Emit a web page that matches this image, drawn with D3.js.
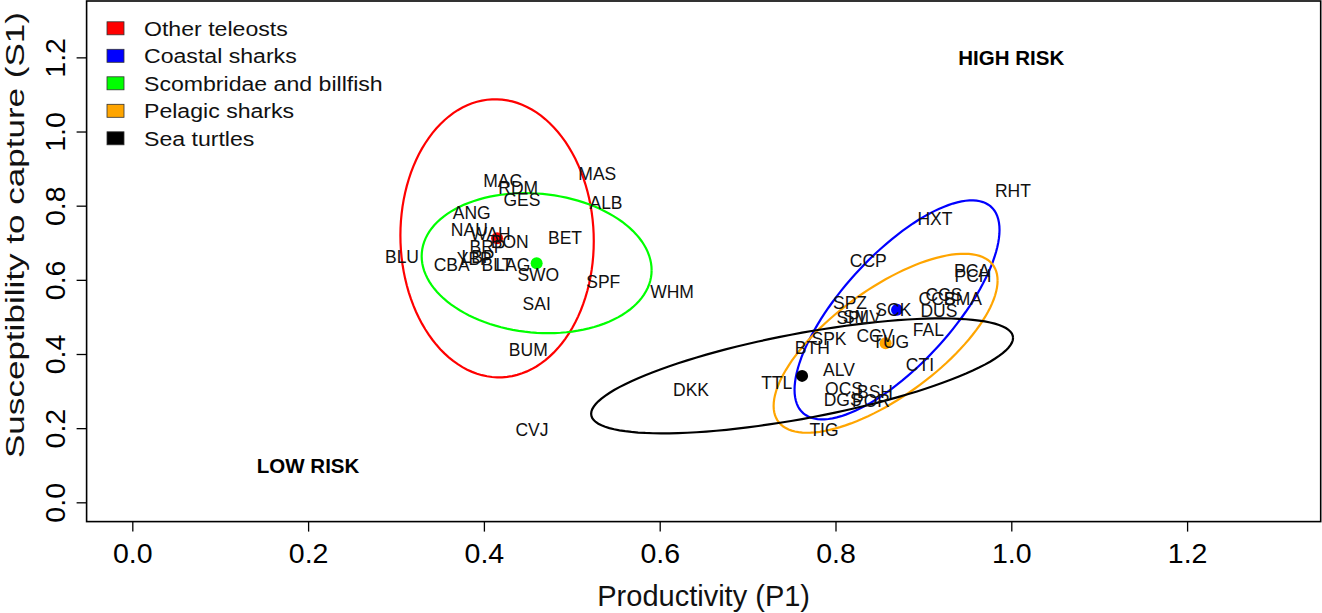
<!DOCTYPE html>
<html>
<head>
<meta charset="utf-8">
<script src="https://cdn.jsdelivr.net/npm/d3@7"></script>
<style>
  html, body { margin: 0; padding: 0; background: #fff; }
  svg { display: block; }
  text { font-family: "Liberation Sans", Arial, Helvetica, sans-serif; }
</style>
</head>
<body>
<svg id="chart" width="1322" height="613"></svg>
<script>
// ---------- DATA ----------
const groupNames = ["Other teleosts", "Coastal sharks", "Scombridae and billfish", "Pelagic sharks", "Sea turtles"];
const groupColors = ["#FF0000", "#0000FF", "#00FF00", "#FFA500", "#000000"];
// group centroids (productivity, susceptibility)
const centroidP = [0.415, 0.870, 0.460, 0.857, 0.762];
const centroidS = [0.712, 0.519, 0.645, 0.429, 0.341];
// ellipse half-extents along P and S, and P–S correlation
const ellipseHalfP = [0.110, 0.1166, 0.1308, 0.1274, 0.240];
const ellipseHalfS = [0.375, 0.2953, 0.1888, 0.2414, 0.155];
const ellipseCorr  = [-0.02, 0.73, -0.10, 0.70, 0.66];

// species labels
const speciesCode = ["MAC","RDM","GES","MAS","ALB","ANG","NAU","WAH","BON","BET","BLU","CBA",
  "BLT","LAG","SWO","SPF","SAI","BUM","WHM","CVJ","BRP","LBP","YBP",
  "CCP","PCA","PCH","CCS","CCB","SMA","DUS","SPZ","SCK","SPL","SMV","FAL","SPK","CCV","TUG",
  "BTH","CTI","ALV","TTL","OCS","BSH","DGS","POR","TIG","HXT","RHT","DKK"];
const speciesP = [0.4214,0.4391,0.4433,0.5290,0.5389,0.3861,0.3834,0.4077,0.4294,0.4923,0.3068,0.3634,
  0.4149,0.4331,0.4619,0.5358,0.4601,0.4505,0.6140,0.4547,0.4041,0.3933,0.3890,
  0.8373,0.9553,0.9564,0.9234,0.9155,0.9451,0.9177,0.8165,0.8658,0.8199,0.8300,0.9056,0.7926,0.8449,0.8628,
  0.7736,0.8961,0.8040,0.7331,0.8097,0.8449,0.8082,0.8404,0.7869,0.9132,1.0019,0.6356];
const speciesS = [0.8673,0.8495,0.8172,0.8873,0.8091,0.7810,0.7344,0.7255,0.7028,0.7136,0.6629,0.6400,
  0.6400,0.6400,0.6130,0.5949,0.5348,0.4126,0.5672,0.1950,0.6898,0.6618,0.6560,
  0.6508,0.6251,0.6117,0.5591,0.5483,0.5496,0.5159,0.5383,0.5205,0.4984,0.5010,0.4666,0.4423,0.4485,0.4331,
  0.4169,0.3703,0.3568,0.3236,0.3074,0.2983,0.2759,0.2740,0.1950,0.7659,0.8403,0.3029];

const tickValues = [0.0, 0.2, 0.4, 0.6, 0.8, 1.0, 1.2];
const tickLabels = ["0.0", "0.2", "0.4", "0.6", "0.8", "1.0", "1.2"];
const xTitle = "Productivity (P1)";
const yTitle = "Susceptibility to capture (S1)";
const riskLabels = ["LOW RISK", "HIGH RISK"];
const riskP = [0.2, 1.0];
const riskS = [0.1, 1.2];

// ---------- LAYOUT ----------
const svg = d3.select("#chart");
const L = 86.6, R = 1320.7, T = 1.0, B = 521.6;
const x = d3.scaleLinear().domain([-0.052, 1.352]).range([L, R]);
const y = d3.scaleLinear().domain([-0.052, 1.352]).range([B, T]);
const font = "'Liberation Sans', Arial, Helvetica, sans-serif";

// ---------- ELLIPSES ----------
const angles = d3.range(0, 361, 3).map(d => d * Math.PI / 180);
const line = d3.line().x(d => x(d[0])).y(d => y(d[1]));
groupNames.forEach((g, i) => {
  const r = ellipseCorr[i], q = Math.sqrt(1 - r * r);
  const pts = angles.map(t => [
    centroidP[i] + ellipseHalfP[i] * Math.cos(t),
    centroidS[i] + ellipseHalfS[i] * (r * Math.cos(t) + q * Math.sin(t))
  ]);
  svg.append("path").attr("d", line(pts)).attr("fill", "none")
    .attr("stroke", groupColors[i]).attr("stroke-width", 2.2);
});

// ---------- CENTROIDS ----------
groupNames.forEach((g, i) => {
  svg.append("circle").attr("cx", x(centroidP[i])).attr("cy", y(centroidS[i]))
    .attr("r", 6).attr("fill", groupColors[i]);
});

// ---------- SPECIES LABELS ----------
svg.append("g").selectAll("text").data(speciesCode).join("text")
  .attr("x", (d, i) => x(speciesP[i]))
  .attr("y", (d, i) => y(speciesS[i]))
  .attr("dy", "0.36em")
  .attr("text-anchor", "middle")
  .attr("font-size", 17.5)
  .attr("fill", "#111")
  .text(d => d);

// ---------- RISK LABELS ----------
riskLabels.forEach((t, i) => {
  svg.append("text").attr("x", x(riskP[i])).attr("y", y(riskS[i])).attr("dy", "0.36em")
    .attr("text-anchor", "middle").attr("font-size", 20.5).attr("font-weight", "bold")
    .attr("fill", "#000").text(t);
});

// ---------- AXES ----------
const fmt = v => tickLabels[tickValues.indexOf(v)];
const gx = svg.append("g").attr("transform", `translate(0,${B})`)
  .call(d3.axisBottom(x).tickValues(tickValues).tickFormat(fmt).tickSize(10));
gx.select(".domain").remove();
gx.selectAll(".tick line").attr("stroke", "#000").attr("stroke-width", 1.3);
gx.selectAll(".tick text").attr("y", 41.5).attr("dy", 0)
  .attr("font-size", 28.5).attr("font-family", font).attr("fill", "#000");

const gy = svg.append("g").attr("transform", `translate(${L},0)`)
  .call(d3.axisLeft(y).tickValues(tickValues).tickFormat(fmt).tickSize(10));
gy.select(".domain").remove();
gy.selectAll(".tick line").attr("stroke", "#000").attr("stroke-width", 1.3);
gy.selectAll(".tick text").attr("transform", "rotate(-90)")
  .attr("x", 0).attr("y", -21.5).attr("dy", 0).attr("text-anchor", "middle")
  .attr("font-size", 28.5).attr("font-family", font).attr("fill", "#000");

// plot box
svg.append("rect").attr("x", L).attr("y", T).attr("width", R - L).attr("height", B - T)
  .attr("fill", "none").attr("stroke", "#000").attr("stroke-width", 1.6);

// axis titles
svg.append("text").attr("x", (L + R) / 2).attr("y", 606).attr("text-anchor", "middle")
  .attr("font-size", 29).attr("fill", "#111").text(xTitle);
svg.append("text").attr("transform", "translate(23.6,235) rotate(-90)")
  .attr("text-anchor", "middle").attr("font-size", 26)
  .attr("textLength", 446).attr("lengthAdjust", "spacingAndGlyphs")
  .attr("fill", "#111").text(yTitle);

// ---------- LEGEND ----------
const leg = svg.append("g");
groupNames.forEach((g, i) => {
  const cy = 28.3 + i * 27.5;
  leg.append("rect").attr("x", 107).attr("y", cy - 6.5).attr("width", 17).attr("height", 13)
    .attr("fill", groupColors[i]).attr("stroke", "#333").attr("stroke-width", 0.8);
  leg.append("text").attr("transform", `translate(144,${cy + 7.5}) scale(1.1,1)`)
    .attr("font-size", 21).attr("fill", "#111").text(g);
});
</script>
</body>
</html>
